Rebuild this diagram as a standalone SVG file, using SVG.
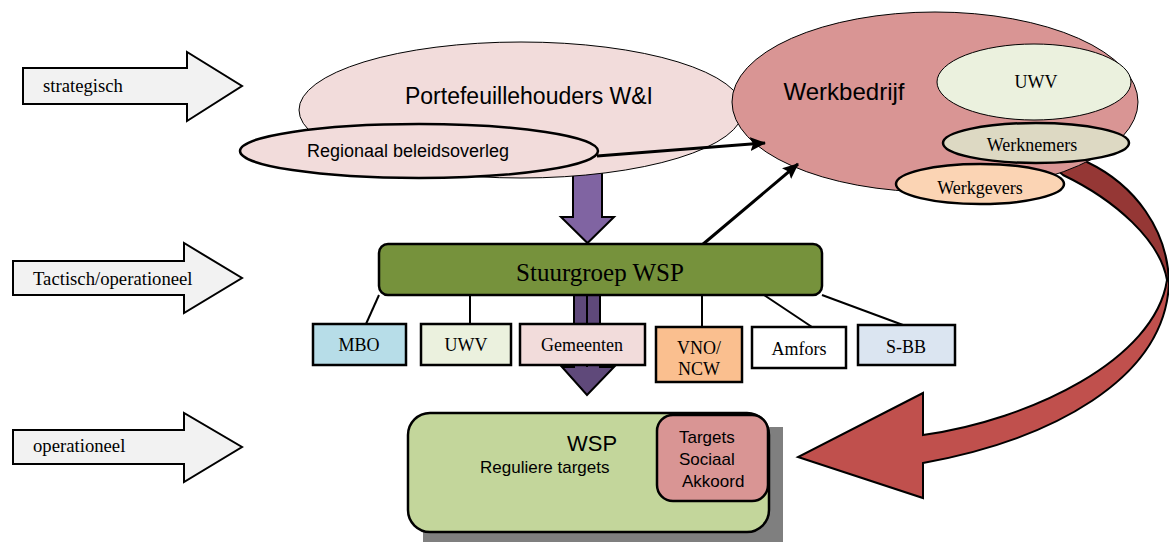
<svg xmlns="http://www.w3.org/2000/svg" width="1169" height="542" viewBox="0 0 1169 542">
<defs>
<style>
.lvl{fill:#F2F2F2;stroke:#000;stroke-width:2;stroke-linejoin:miter}
.serif{font-family:"Liberation Serif","Times New Roman",serif;fill:#000}
.sans{font-family:"Liberation Sans",Arial,sans-serif;fill:#000}
.box{stroke:#000;stroke-width:2.5}
.ln{stroke:#000;stroke-width:2;fill:none}
.arr{stroke:#000;stroke-width:3;fill:none}
</style>
<marker id="ah" markerWidth="16" markerHeight="14" refX="15" refY="7" orient="auto" markerUnits="userSpaceOnUse" viewBox="0 0 16 14">
<path d="M0,0 L16,7 L0,14 L3,7 Z" fill="#000"/>
</marker>
</defs>
<rect width="1169" height="542" fill="#fff"/>

<g id="level-strategisch">
<path class="lvl" d="M23,68 H187 V52 L242,86 L187,121 V104 H23 Z"/>
<text class="serif" x="43" y="92" font-size="18.7">strategisch</text>
</g>
<g id="level-tactisch">
<path class="lvl" d="M13,261 H184 V243 L242,278 L184,313 V295 H13 Z"/>
<text class="serif" x="33" y="285" font-size="18.7">Tactisch/operationeel</text>
</g>
<g id="level-operationeel">
<path class="lvl" d="M13,430 H184 V413 L242,447 L184,482 V464 H13 Z"/>
<text class="serif" x="33" y="452" font-size="18.7">operationeel</text>
</g>

<g id="arrow-down-top">
<path d="M573,160 H602 V217 H614 L587.5,243 L561,217 H573 Z" fill="#8064A2" stroke="#000" stroke-width="2"/>
</g>

<g id="portefeuillehouders">
<ellipse cx="521" cy="110" rx="222" ry="68" fill="#F2DCDB" stroke="#000" stroke-width="1"/>
<text class="sans" x="529" y="104" font-size="23" text-anchor="middle">Portefeuillehouders W&amp;I</text>
</g>
<g id="regionaal">
<ellipse cx="419" cy="151" rx="179" ry="27" fill="#F2DCDB" stroke="#000" stroke-width="2.5"/>
<text class="sans" x="408" y="157" font-size="18" text-anchor="middle">Regionaal beleidsoverleg</text>
</g>

<g id="curved-arrow">
<path d="M1075,150 L1087,162 C1135,185 1168,230 1169,283 C1165,380 1050,440 923,463 L923,498 L798,457 L923,393 L923,435 C1030,420 1155,360 1167,280 C1160,240 1115,200 1063,175 L1045,160 Z" fill="#C0504D"/>
<path d="M1075,150 L1087,162 C1135,185 1168,230 1169,283 L1167,280 C1160,240 1115,200 1063,175 L1045,160 Z" fill="#953735"/>
<path d="M1075,150 L1087,162 C1135,185 1168,230 1169,283 C1165,380 1050,440 923,463 L923,498 L798,457 L923,393 L923,435 C1030,420 1155,360 1167,280 C1160,240 1115,200 1063,175 L1045,160 Z" fill="none" stroke="#000" stroke-width="2"/>
</g>

<g id="werkbedrijf">
<ellipse cx="935" cy="102" rx="203" ry="90" fill="#D99594" stroke="#000" stroke-width="1"/>
<text class="sans" x="844" y="100" font-size="24" text-anchor="middle">Werkbedrijf</text>
</g>
<g id="uwv-wb">
<ellipse cx="1034" cy="82" rx="97" ry="38" fill="#EBF1DE" stroke="#000" stroke-width="1"/>
<text class="serif" x="1036" y="88" font-size="18" text-anchor="middle">UWV</text>
</g>
<g id="werknemers">
<ellipse cx="1036" cy="143" rx="93" ry="20" fill="#DDD9C3" stroke="#000" stroke-width="2.5"/>
<text class="serif" x="1032" y="151" font-size="18" text-anchor="middle">Werknemers</text>
</g>
<g id="werkgevers">
<ellipse cx="980" cy="184" rx="84" ry="20" fill="#FBD4B4" stroke="#000" stroke-width="2.5"/>
<text class="serif" x="980" y="194" font-size="18" text-anchor="middle">Werkgevers</text>
</g>

<g id="connectors">
<line class="arr" x1="597" y1="156" x2="765" y2="143" marker-end="url(#ah)"/>
<line class="arr" x1="702" y1="245" x2="798" y2="164" marker-end="url(#ah)"/>
<path d="M574,295 H600 V367 H614 L587,395 L562,367 H574 Z" fill="#5F497A" stroke="#000" stroke-width="2"/>
<line x1="587" y1="295" x2="587" y2="367" stroke="#000" stroke-width="2"/>
<line class="ln" x1="379" y1="295" x2="366" y2="324"/>
<line class="ln" x1="470" y1="295" x2="470" y2="324"/>
<line class="ln" x1="702" y1="295" x2="702" y2="327"/>
<line class="ln" x1="764" y1="295" x2="812" y2="327"/>
<line class="ln" x1="822" y1="295" x2="903" y2="325"/>
</g>

<g id="stuurgroep">
<rect x="379" y="244" width="443" height="51" rx="9" fill="#76923C" stroke="#000" stroke-width="2.5"/>
<text class="serif" x="600" y="281" font-size="25" text-anchor="middle">Stuurgroep WSP</text>
</g>

<g id="mbo">
<rect class="box" x="313" y="324" width="93" height="41" fill="#B7DDE8"/>
<text class="serif" x="359" y="351" font-size="18" text-anchor="middle">MBO</text>
</g>
<g id="uwv">
<rect class="box" x="421" y="324" width="90" height="41" fill="#EBF1DE"/>
<text class="serif" x="466" y="351" font-size="18" text-anchor="middle">UWV</text>
</g>
<g id="gemeenten">
<rect class="box" x="520" y="324" width="125" height="41" fill="#F2DCDB"/>
<text class="serif" x="582" y="351" font-size="18" text-anchor="middle">Gemeenten</text>
</g>
<g id="vno-ncw">
<rect class="box" x="656" y="327" width="86" height="55" fill="#FABF8F"/>
<text class="serif" x="699" y="354" font-size="18" text-anchor="middle">VNO/</text>
<text class="serif" x="699" y="375" font-size="18" text-anchor="middle">NCW</text>
</g>
<g id="amfors">
<rect class="box" x="752" y="327" width="94" height="41" fill="#FFFFFF"/>
<text class="serif" x="799" y="355" font-size="18" text-anchor="middle">Amfors</text>
</g>
<g id="s-bb">
<rect class="box" x="858" y="325" width="97" height="40" fill="#DBE5F1"/>
<text class="serif" x="906" y="353" font-size="18" text-anchor="middle">S-BB</text>
</g>

<g id="wsp">
<rect x="423" y="427" width="360" height="120" fill="#7F7F7F"/>
<rect x="408" y="413" width="361" height="119" rx="22" fill="#C3D69B" stroke="#000" stroke-width="2.5"/>
<text class="sans" x="567" y="451" font-size="22">WSP</text>
<text class="sans" x="480" y="473" font-size="17">Reguliere targets</text>
</g>
<g id="targets-sociaal-akkoord">
<rect x="657" y="415" width="111" height="86" rx="16" fill="#D99594" stroke="#000" stroke-width="2.5"/>
<text class="sans" x="679" y="443" font-size="17">Targets</text>
<text class="sans" x="679" y="465" font-size="17">Sociaal</text>
<text class="sans" x="682" y="487" font-size="17">Akkoord</text>
</g>
</svg>
